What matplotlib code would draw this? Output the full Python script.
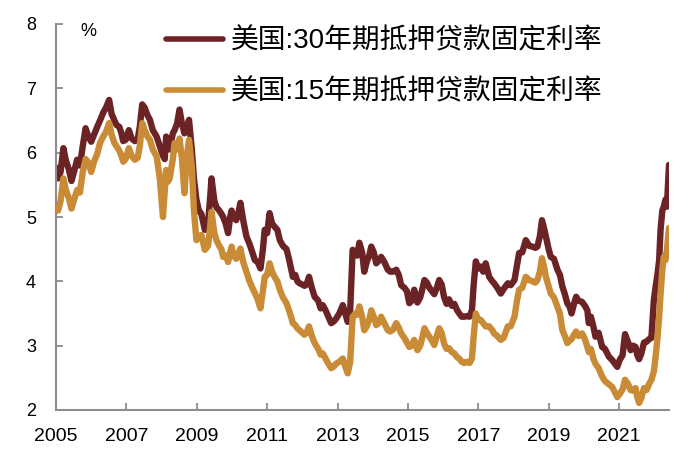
import matplotlib
matplotlib.use("Agg")
import matplotlib.pyplot as plt
import numpy as np

# ---- data (decimal years) ----
dates = [
    2005.00, 2005.06, 2005.13, 2005.21, 2005.28, 2005.36, 2005.44, 2005.52, 2005.60, 2005.68, 2005.76, 2005.84, 2005.92,
    2006.00, 2006.08, 2006.17, 2006.25, 2006.34, 2006.42, 2006.51, 2006.58, 2006.66, 2006.72, 2006.80, 2006.86, 2006.91, 2006.98,
    2007.07, 2007.15, 2007.24, 2007.32, 2007.38, 2007.45, 2007.52, 2007.60, 2007.67, 2007.75, 2007.86, 2007.95,
    2008.04, 2008.09, 2008.13, 2008.18, 2008.23, 2008.32, 2008.37, 2008.44, 2008.51, 2008.58, 2008.65, 2008.72, 2008.78, 2008.86, 2008.92, 2008.99,
    2009.06, 2009.13, 2009.23, 2009.32, 2009.38, 2009.42, 2009.50, 2009.56, 2009.64, 2009.70, 2009.75, 2009.82, 2009.89, 2009.95, 2009.99,
    2010.05, 2010.12, 2010.18, 2010.24, 2010.32, 2010.41, 2010.50, 2010.58, 2010.65, 2010.73, 2010.81, 2010.88, 2010.93,
    2011.00, 2011.07, 2011.14, 2011.21, 2011.29, 2011.36, 2011.45, 2011.55, 2011.62, 2011.68, 2011.73, 2011.80, 2011.86, 2011.92,
    2012.00, 2012.06, 2012.12, 2012.19, 2012.27, 2012.35, 2012.45, 2012.52, 2012.58, 2012.66, 2012.74, 2012.82, 2012.90, 2012.96,
    2013.05, 2013.15, 2013.22, 2013.29, 2013.36, 2013.43, 2013.50, 2013.56, 2013.62, 2013.70, 2013.76, 2013.83, 2013.90, 2013.96,
    2014.03, 2014.10, 2014.17, 2014.24, 2014.33, 2014.43, 2014.50, 2014.58, 2014.67, 2014.74, 2014.81, 2014.90, 2014.97,
    2015.04, 2015.11, 2015.18, 2015.27, 2015.35, 2015.42, 2015.47, 2015.54, 2015.61, 2015.68, 2015.75, 2015.82, 2015.89, 2015.96,
    2016.03, 2016.10, 2016.17, 2016.25, 2016.32, 2016.40, 2016.46, 2016.53, 2016.60, 2016.68, 2016.75, 2016.82, 2016.87, 2016.93,
    2017.00, 2017.07, 2017.14, 2017.21, 2017.31, 2017.40, 2017.45, 2017.54, 2017.64, 2017.72, 2017.84, 2017.92,
    2018.03, 2018.10, 2018.16, 2018.25, 2018.35, 2018.45, 2018.54, 2018.62, 2018.68, 2018.75, 2018.81, 2018.88, 2018.92,
    2019.00, 2019.06, 2019.15, 2019.25, 2019.32, 2019.39, 2019.46, 2019.53, 2019.60, 2019.65, 2019.72, 2019.78, 2019.85, 2019.95,
    2020.03, 2020.10, 2020.14, 2020.20, 2020.27, 2020.33, 2020.42, 2020.52, 2020.60, 2020.71, 2020.80, 2020.88, 2020.95,
    2021.02, 2021.10, 2021.17, 2021.26, 2021.33, 2021.40, 2021.47, 2021.52, 2021.57, 2021.63, 2021.71, 2021.78, 2021.85, 2021.92, 2021.99,
    2022.04, 2022.09, 2022.14, 2022.18, 2022.23, 2022.27, 2022.32, 2022.36, 2022.42,
]

rate30 = [
    5.77, 5.60, 5.70, 6.07, 5.88, 5.75, 5.56, 5.72, 5.89, 5.80, 6.10, 6.38, 6.25,
    6.17, 6.28, 6.40, 6.50, 6.62, 6.70, 6.82, 6.60, 6.50, 6.43, 6.40, 6.30, 6.18, 6.20,
    6.35, 6.22, 6.18, 6.20, 6.40, 6.75, 6.70, 6.58, 6.51, 6.35, 6.25, 6.10,
    5.95, 5.90, 6.25, 6.07, 6.05, 6.30, 6.35, 6.45, 6.67, 6.45, 6.30, 6.40, 6.51, 6.05, 5.60, 5.27,
    5.10, 5.05, 4.80, 4.90, 5.30, 5.60, 5.25, 5.15, 5.10, 5.05, 5.00, 4.90, 4.75, 5.00, 5.10,
    5.00, 4.95, 5.05, 5.22, 4.95, 4.70, 4.58, 4.45, 4.33, 4.30, 4.20, 4.50, 4.80,
    4.75, 5.06, 4.90, 4.85, 4.80, 4.64, 4.55, 4.50, 4.35, 4.20, 4.07, 4.10, 4.00, 3.97,
    3.95, 3.93, 3.95, 4.07, 3.90, 3.76, 3.70, 3.58, 3.63, 3.55, 3.45, 3.35, 3.38, 3.42,
    3.50, 3.63, 3.50, 3.37, 3.55, 4.49, 4.45, 4.40, 4.60, 4.45, 4.15, 4.30, 4.40, 4.54,
    4.45, 4.28, 4.32, 4.38, 4.30, 4.18, 4.15, 4.15, 4.18, 4.10, 3.94, 3.90, 3.85,
    3.66, 3.70, 3.87, 3.67, 3.75, 3.90, 4.02, 3.98, 3.90, 3.85, 3.80, 3.90, 4.02, 3.95,
    3.75, 3.65, 3.72, 3.62, 3.65, 3.55, 3.50, 3.45, 3.45, 3.46, 3.45, 3.55, 3.95, 4.31,
    4.20, 4.23, 4.15, 4.28, 4.07, 4.00, 3.97, 3.90, 3.81, 3.88, 3.97, 3.94,
    4.02, 4.25, 4.44, 4.45, 4.64, 4.55, 4.54, 4.52, 4.54, 4.70, 4.95, 4.80, 4.70,
    4.50, 4.38, 4.35, 4.18, 4.10, 3.92, 3.80, 3.66, 3.60, 3.50, 3.65, 3.76, 3.70, 3.68,
    3.62, 3.55, 3.35, 3.45, 3.30, 3.14, 3.20, 2.98, 2.95, 2.83, 2.78, 2.72, 2.67,
    2.78, 2.85, 3.18, 3.05, 2.93, 3.00, 2.98, 2.85, 2.79, 2.87, 3.05, 3.06, 3.10, 3.12, 3.71,
    3.92, 4.10, 4.33, 4.80, 5.10, 5.16, 5.27, 5.16, 5.81,
]

rate15 = [
    5.16, 5.10, 5.25, 5.60, 5.42, 5.30, 5.13, 5.28, 5.42, 5.38, 5.70, 5.90, 5.85,
    5.70, 5.86, 5.98, 6.15, 6.25, 6.32, 6.46, 6.28, 6.15, 6.10, 6.03, 5.95, 5.86, 5.90,
    6.07, 5.95, 5.89, 5.92, 6.10, 6.46, 6.35, 6.25, 6.20, 6.05, 5.94, 5.60,
    5.00, 5.40, 5.73, 5.55, 5.60, 5.90, 6.15, 6.05, 6.22, 5.90, 5.37, 5.95, 6.20, 5.78, 5.10, 4.64,
    4.70, 4.72, 4.49, 4.55, 4.85, 5.08, 4.75, 4.64, 4.55, 4.50, 4.38, 4.40, 4.30, 4.45, 4.54,
    4.40, 4.35, 4.42, 4.51, 4.30, 4.15, 4.00, 3.90, 3.82, 3.72, 3.58, 3.85, 4.07,
    4.10, 4.28, 4.15, 4.07, 4.00, 3.87, 3.75, 3.66, 3.55, 3.45, 3.35, 3.32, 3.27, 3.24,
    3.20, 3.17, 3.20, 3.30, 3.15, 3.04, 2.95, 2.86, 2.88, 2.80, 2.72, 2.65, 2.68, 2.72,
    2.75, 2.80, 2.68, 2.57, 2.75, 3.45, 3.50, 3.48, 3.61, 3.45, 3.24, 3.30, 3.40, 3.55,
    3.45, 3.32, 3.35, 3.45, 3.35, 3.24, 3.22, 3.25, 3.35, 3.28, 3.19, 3.12, 3.05,
    2.98, 3.00, 3.09, 2.93, 3.00, 3.15, 3.27, 3.20, 3.14, 3.08, 3.01, 3.15, 3.27, 3.20,
    3.03, 2.95, 2.96, 2.90, 2.88, 2.82, 2.80, 2.75, 2.73, 2.75, 2.73, 2.80, 3.15, 3.50,
    3.40, 3.40, 3.35, 3.30, 3.30, 3.24, 3.19, 3.15, 3.09, 3.12, 3.30, 3.30,
    3.45, 3.70, 3.87, 3.90, 4.07, 4.02, 4.00, 3.98, 4.02, 4.15, 4.36, 4.20, 4.07,
    3.92, 3.81, 3.75, 3.60, 3.50, 3.24, 3.15, 3.04, 3.08, 3.10, 3.17, 3.22, 3.15, 3.19,
    3.10, 2.98, 2.90, 2.95, 2.80, 2.72, 2.65, 2.52, 2.45, 2.40, 2.36, 2.28, 2.20,
    2.25, 2.32, 2.47, 2.40, 2.31, 2.30, 2.34, 2.20, 2.11, 2.18, 2.34, 2.31, 2.40, 2.47, 2.60,
    2.83, 3.10, 3.45, 3.80, 4.18, 4.38, 4.33, 4.49, 4.83,
]

series_labels = ["美国:30年期抵押贷款固定利率", "美国:15年期抵押贷款固定利率"]
x_ticks = [2005, 2007, 2009, 2011, 2013, 2015, 2017, 2019, 2021]
y_ticks = [2, 3, 4, 5, 6, 7, 8]
unit_label = "%"

# ---- style ----
c30 = "#6B2326"
c15 = "#C98B35"
spine_c = "#8C8C8C"
fam = ["Liberation Sans", "Noto Sans CJK SC", "DejaVu Sans"]
plt.rcParams["font.family"] = fam

fig = plt.figure(figsize=(7.0, 4.67), dpi=100)
ax = fig.add_axes([56 / 700, 1 - 410 / 467, (669 - 56) / 700, (410 - 24) / 467])

LW = 4.6
l30, = ax.plot(dates, rate30, color=c30, lw=LW, solid_joinstyle="round",
               solid_capstyle="round", label=series_labels[0], zorder=2)
l15, = ax.plot(dates, rate15, color=c15, lw=LW, solid_joinstyle="round",
               solid_capstyle="round", label=series_labels[1], zorder=3)

ax.set_xlim(2005, 2022.42)
ax.set_ylim(2, 8)
ax.set_xticks(x_ticks)
ax.set_xticklabels([str(t) for t in x_ticks], fontsize=14)
ax.set_yticks(y_ticks)
ax.set_yticklabels([str(t) for t in y_ticks], fontsize=13)

for s in ["top", "right"]:
    ax.spines[s].set_visible(False)
for s in ["left", "bottom"]:
    ax.spines[s].set_color(spine_c)
    ax.spines[s].set_linewidth(1.5)
ax.tick_params(axis="both", direction="in", length=5, width=1.3, color=spine_c,
               labelcolor="black")
ax.tick_params(axis="x", pad=13)
ax.tick_params(axis="y", pad=18)
for lab in ax.get_yticklabels():
    lab.set_horizontalalignment("center")
ax.patch.set_visible(False)

fig.text(88 / 700, 1 - 31 / 467, unit_label, ha="center", va="center", fontsize=13)

leg = ax.legend(handles=[l30, l15], loc="upper left",
                bbox_to_anchor=(166 / 700, 1 - 28 / 467), bbox_transform=fig.transFigure,
                frameon=False, borderpad=0, borderaxespad=0, handlelength=2.05,
                handletextpad=0.3, labelspacing=0.88,
                prop={"family": fam, "size": 20})
for h in leg.get_lines():
    h.set_linewidth(4.0)
    h.set_solid_capstyle("round")

fig.savefig("out.png", dpi=100, facecolor="white")
